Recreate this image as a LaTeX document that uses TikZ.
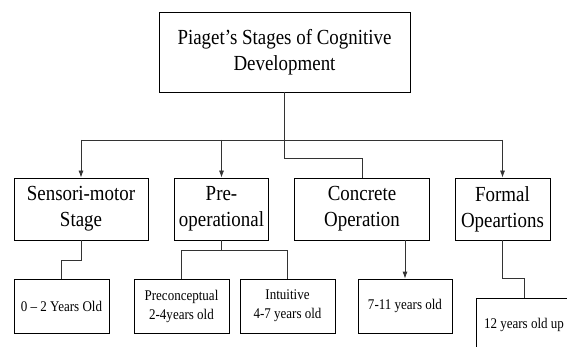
\documentclass[tikz,border=0pt]{standalone}
\usepackage{fontspec}
\setmainfont{Liberation Serif}[FakeStretch=0.88]
\usetikzlibrary{arrows.meta}

\begin{document}
\begin{tikzpicture}[x=1pt,y=-1pt,
  box/.style={draw, line width=0.8pt, inner sep=0pt, align=center,
    font=\fontsize{21.5}{26}\selectfont},
  agebox/.style={box, minimum height=54pt,
    font=\fontsize{14.8}{19}\selectfont},
  link/.style={draw=black!80, line width=0.8pt},
  arr/.style={link, -{Latex[length=7pt,width=5pt]}}]
\useasboundingbox[fill=white] (0,0) rectangle (567,347);
\node[box, minimum width=251pt, minimum height=80pt] (root) at (284.5,52)
  {Piaget’s Stages of Cognitive\\Development};

\node[box, minimum width=134pt, minimum height=62pt] (sensori) at (81,209) {Sensori-motor\\Stage};
\node[box, minimum width=94pt, minimum height=62pt] (preop) at (221.5,209) {Pre-\\operational};
\node[box, minimum width=135pt, minimum height=62pt] (concrete) at (362,209) {Concrete\\Operation};
\node[box, minimum width=95pt, minimum height=62pt] (formal) at (502.5,209) {Formal\\Opeartions};

\node[agebox, minimum width=95pt] (zero) at (61.5,306) {0 – 2 Years Old};
\node[agebox, minimum width=95pt] (preconc) at (181.5,306) {Preconceptual\\2-4years old};
\node[agebox, minimum width=95pt] (intuit) at (287.5,306) {Intuitive\\4-7 years old};
\node[agebox, minimum width=94pt] (seven) at (405,306) {7-11 years old};
\node[agebox, minimum width=96pt] (twelve) at (524,325) {12 years old up};

\coordinate (bar) at (0,140);
\draw[link] (root.south) -- ++(0,66) -| (concrete.north);
\draw[link] (sensori.north |- bar) -- (formal.north |- bar);
\foreach \n in {sensori,preop,formal}
  \draw[arr] (\n.north |- bar) -- (\n.north);

\draw[link] (sensori.south) -- ++(0,20) -| (zero.north);
\draw[link] (preop.south) -- ++(0,10) coordinate (pj);
\draw[link] (preconc.north) |- (pj) -| (intuit.north);
\draw[arr] (seven.north |- concrete.south) -- (seven.north);
\draw[link] (formal.south) -- ++(0,38) -| (twelve.north);
\end{tikzpicture}
\end{document}
